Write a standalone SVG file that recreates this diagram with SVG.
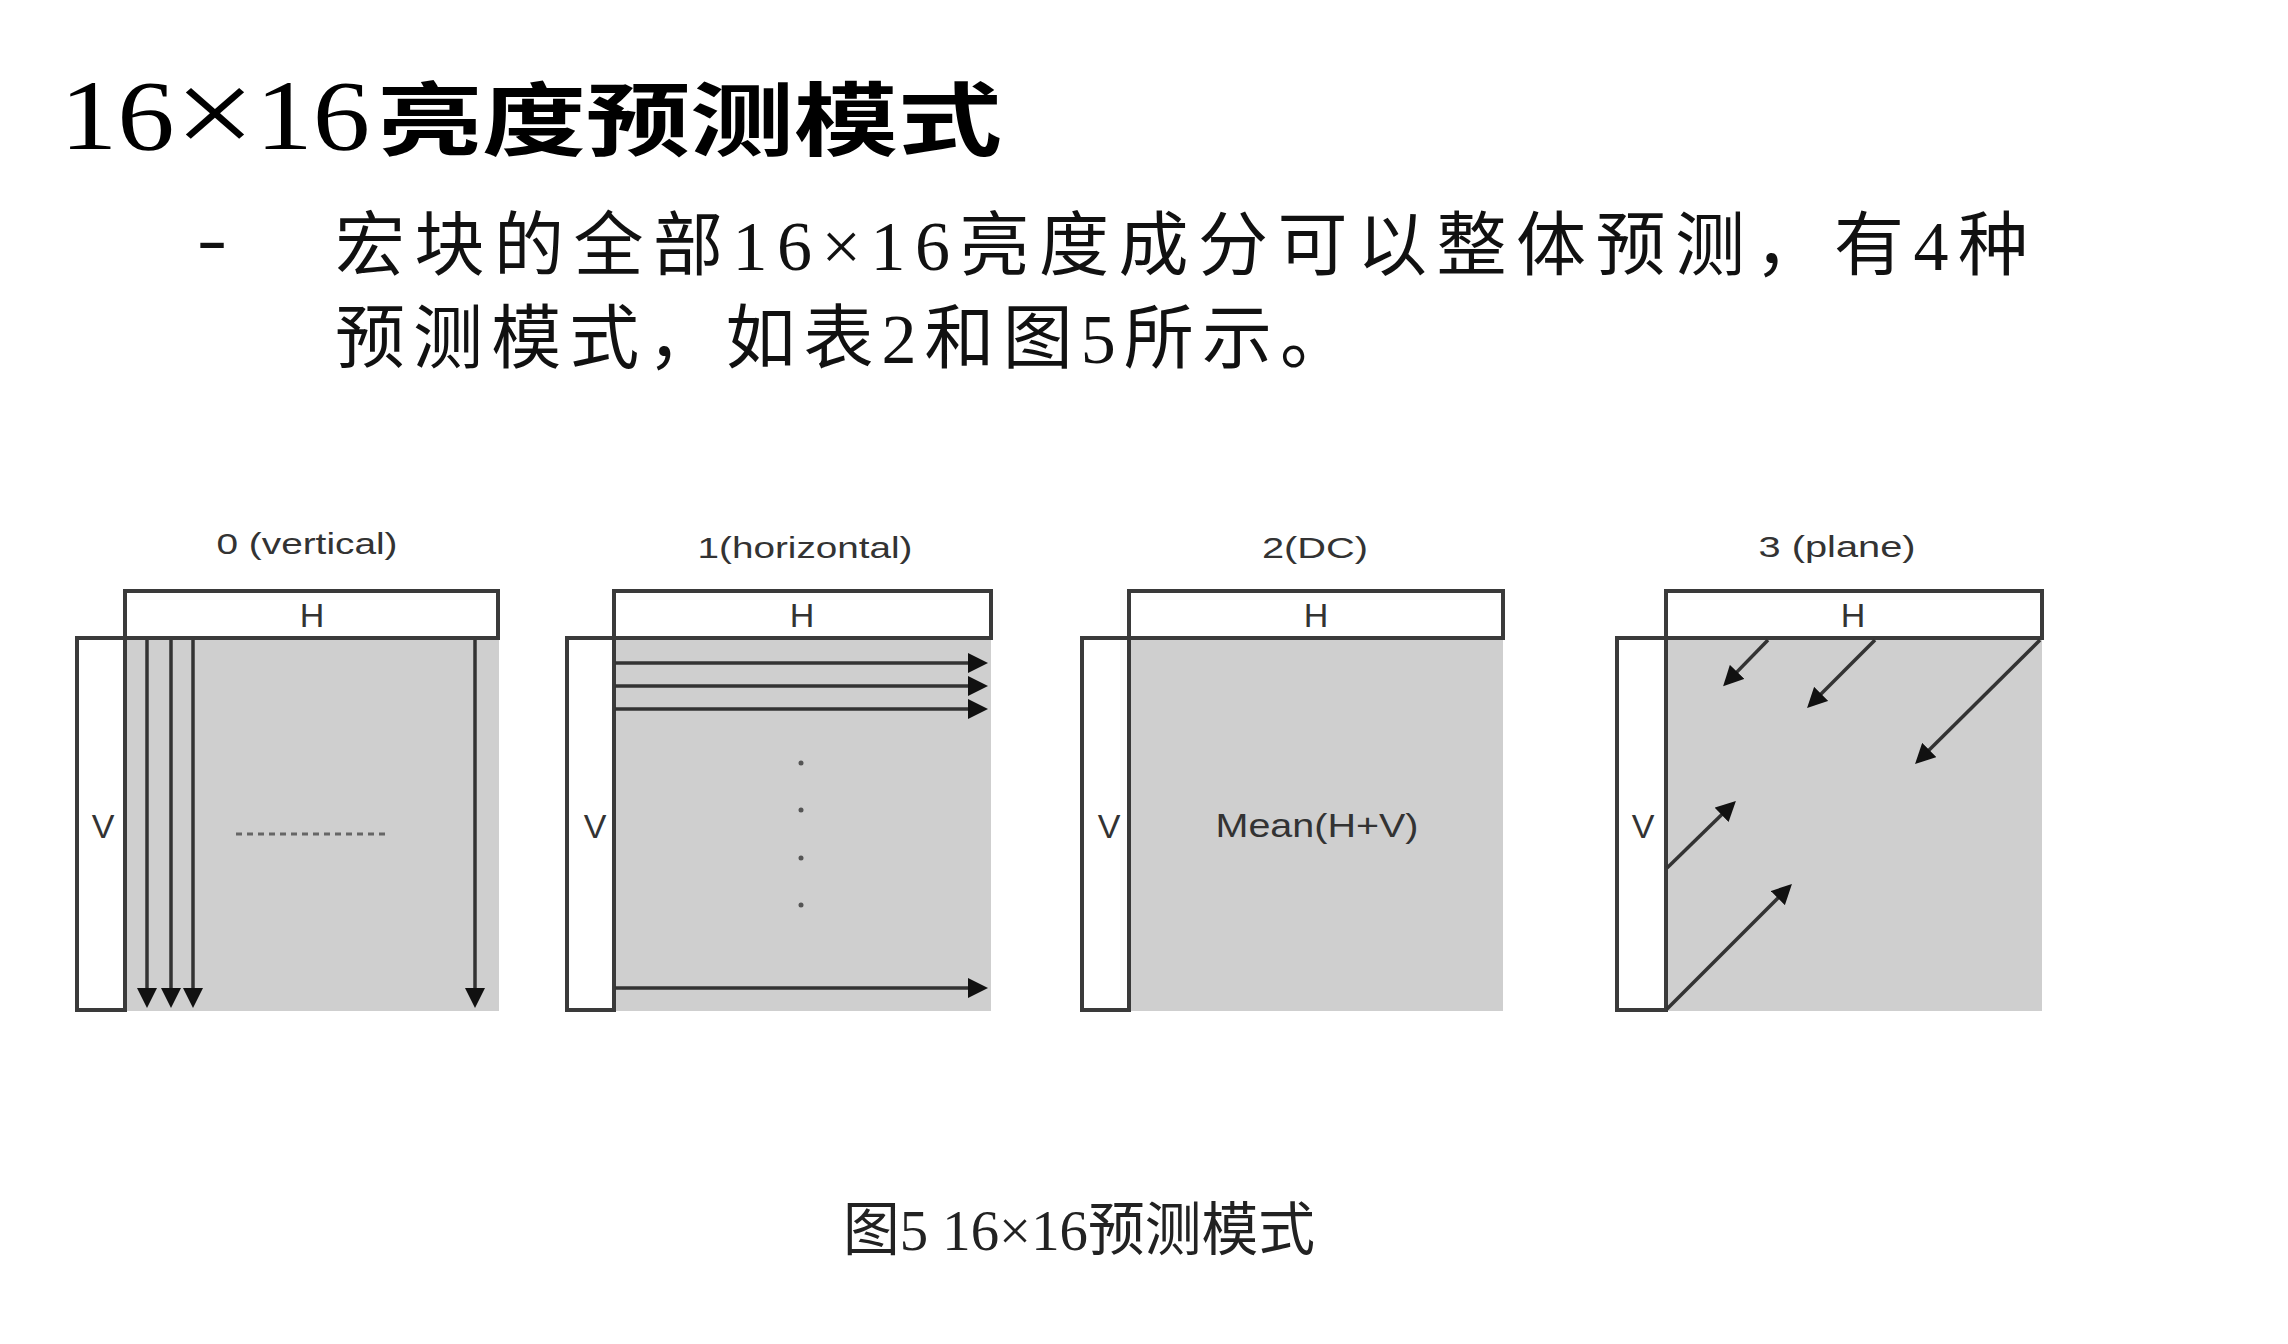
<svg xmlns="http://www.w3.org/2000/svg" width="2288" height="1344" viewBox="0 0 2288 1344">
<defs>
<marker id="ah" viewBox="0 0 20 20" refX="14" refY="10" markerWidth="20" markerHeight="20" markerUnits="userSpaceOnUse" orient="auto"><path d="M0,0 L20,10 L0,20 z" fill="#111"/></marker>
<style>
.box{fill:#fff;stroke:#3a3a3a;stroke-width:4}
.area{fill:#cfcfcf}
.arr{stroke:#333;stroke-width:3.5;fill:none}
.lbl{font-family:'Liberation Sans',Arial,sans-serif;fill:#333;text-anchor:middle}
.ttl{font-size:30px}
.hv{font-size:34px}
.body{font-family:'Liberation Serif','Noto Sans CJK SC',serif;font-size:70px;fill:#111}
</style>
</defs>
<rect width="2288" height="1344" fill="#fff"/>

<g id="heading">
<text x="60" y="149" font-family="'Liberation Serif',serif" font-size="100" textLength="310" lengthAdjust="spacingAndGlyphs" fill="#000">16<tspan font-size="125" dy="6">×</tspan><tspan dy="-6">16</tspan></text>
<text x="378" y="149" font-family="'Noto Sans CJK SC',sans-serif" font-weight="700" font-size="80" textLength="624" lengthAdjust="spacingAndGlyphs" fill="#000">亮度预测模式</text>
</g>

<g id="bullet">
<text x="197" y="262" class="body" font-family="'Liberation Sans',sans-serif" textLength="30" lengthAdjust="spacingAndGlyphs">-</text>
<text x="335" y="270" class="body" textLength="1693" lengthAdjust="spacing">宏块的全部16×16亮度成分可以整体预测，有4种</text>
<text x="335" y="363" class="body" textLength="1015" lengthAdjust="spacing">预测模式，如表2和图5所示。</text>
</g>

<g id="mode0">
<text class="lbl ttl" x="307" y="554" textLength="181" lengthAdjust="spacingAndGlyphs">0 (vertical)</text>
<rect class="area" x="125" y="638" width="374" height="373"/>
<rect class="box" x="125" y="591" width="373" height="47"/>
<rect class="box" x="77" y="638" width="48" height="372"/>
<text class="lbl hv" x="312" y="627">H</text>
<text class="lbl hv" x="103" y="838">V</text>
<line x1="236" y1="834" x2="389" y2="834" stroke="#666" stroke-width="3" stroke-dasharray="6 5"/>
</g>

<g id="mode1">
<text class="lbl ttl" x="805" y="558" textLength="215" lengthAdjust="spacingAndGlyphs">1(horizontal)</text>
<rect class="area" x="614" y="638" width="377" height="373"/>
<rect class="box" x="614" y="591" width="377" height="47"/>
<rect class="box" x="567" y="638" width="47" height="372"/>
<text class="lbl hv" x="802" y="627">H</text>
<text class="lbl hv" x="595" y="838">V</text>
<g fill="#555">
<circle cx="801" cy="763" r="2.5"/>
<circle cx="801" cy="810" r="2.5"/>
<circle cx="801" cy="858" r="2.5"/>
<circle cx="801" cy="905" r="2.5"/>
</g>
</g>

<g id="mode2">
<text class="lbl ttl" x="1315" y="558" textLength="106" lengthAdjust="spacingAndGlyphs">2(DC)</text>
<rect class="area" x="1129" y="638" width="374" height="373"/>
<rect class="box" x="1129" y="591" width="374" height="47"/>
<rect class="box" x="1082" y="638" width="47" height="372"/>
<text class="lbl hv" x="1316" y="627">H</text>
<text class="lbl hv" x="1109" y="838">V</text>
<text class="lbl" x="1317" y="837" font-size="34" textLength="203" lengthAdjust="spacingAndGlyphs">Mean(H+V)</text>
</g>

<g id="mode3">
<text class="lbl ttl" x="1837" y="557" textLength="157" lengthAdjust="spacingAndGlyphs">3 (plane)</text>
<rect class="area" x="1666" y="638" width="376" height="373"/>
<rect class="box" x="1666" y="591" width="376" height="47"/>
<rect class="box" x="1617" y="638" width="49" height="372"/>
<text class="lbl hv" x="1853" y="627">H</text>
<text class="lbl hv" x="1643" y="838">V</text>
</g>

<g id="connectors" class="arr">
<line x1="147" y1="640" x2="147" y2="1002" marker-end="url(#ah)"/>
<line x1="171" y1="640" x2="171" y2="1002" marker-end="url(#ah)"/>
<line x1="193" y1="640" x2="193" y2="1002" marker-end="url(#ah)"/>
<line x1="475" y1="640" x2="475" y2="1002" marker-end="url(#ah)"/>
<line x1="615" y1="663" x2="982" y2="663" marker-end="url(#ah)"/>
<line x1="615" y1="686" x2="982" y2="686" marker-end="url(#ah)"/>
<line x1="615" y1="709" x2="982" y2="709" marker-end="url(#ah)"/>
<line x1="615" y1="988" x2="982" y2="988" marker-end="url(#ah)"/>
<line x1="1768" y1="640" x2="1727.3" y2="681.9" marker-end="url(#ah)"/>
<line x1="1875" y1="640" x2="1811.3" y2="703.8" marker-end="url(#ah)"/>
<line x1="2040" y1="640" x2="1919.3" y2="759.8" marker-end="url(#ah)"/>
<line x1="1667" y1="868" x2="1731.6" y2="805.1" marker-end="url(#ah)"/>
<line x1="1667" y1="1009" x2="1787.7" y2="888.2" marker-end="url(#ah)"/>
</g>

<g id="caption">
<text x="843" y="1250" font-family="'Liberation Serif','Noto Sans CJK SC',serif" font-size="58" fill="#222" textLength="472" lengthAdjust="spacingAndGlyphs">图5 16×16预测模式</text>
</g>
</svg>
